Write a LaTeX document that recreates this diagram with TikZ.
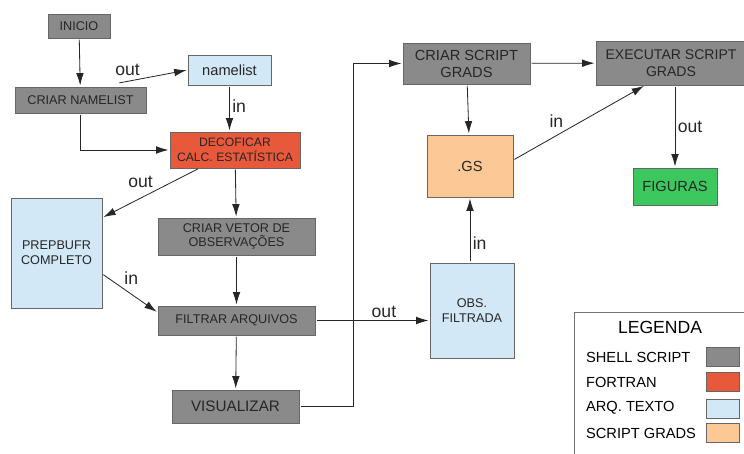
\documentclass[tikz,border=0pt]{standalone}
\usepackage{fontspec}
\setmainfont{Liberation Sans}
\usetikzlibrary{arrows.meta}
\definecolor{shellgray}{RGB}{138,138,138}
\definecolor{fortred}{RGB}{232,88,58}
\definecolor{txtblue}{RGB}{210,232,246}
\definecolor{gradsorange}{RGB}{252,200,150}
\definecolor{figgreen}{RGB}{60,200,95}

\begin{document}
\begin{tikzpicture}[x=0.03cm, y=-0.03cm, >={Latex[length=10.5pt,width=6.5pt]},
    basebox/.style={draw=black!60, line width=0.6pt, align=center, text=black!85, inner sep=1pt,
      font=\fontsize{10.8}{12.5}\selectfont},
    shell/.style={basebox, fill=shellgray},
    fort/.style={basebox, fill=fortred},
    arq/.style={basebox, fill=txtblue},
    grads/.style={basebox, fill=gradsorange},
    figbox/.style={basebox, fill=figgreen},
    bigtxt/.style={font=\fontsize{12.5}{14.5}\selectfont},
    lbl/.style={font=\fontsize{15}{17}\selectfont, inner sep=2pt},
    seta/.style={->, line width=0.7pt, black!85, shorten >=1pt, shorten <=1pt}]
    \useasboundingbox (0,0) rectangle (744,454);

    % boxes
    \node [shell, minimum width=1.86cm, minimum height=0.72cm] (ini) at (79,26) {INICIO};
    \node [shell, minimum width=3.93cm, minimum height=0.78cm] (cnl) at (80.5,100) {CRIAR NAMELIST};
    \node [arq, bigtxt, minimum width=2.49cm, minimum height=0.9cm] (nml) at (229.5,70) {namelist};
    \node [fort, font=\fontsize{10.4}{12.8}\selectfont, minimum width=3.9cm, minimum height=1.08cm] (dec) at (235,150) {DECOFICAR\\CALC. ESTATÍSTICA};
    \node [arq, minimum width=2.73cm, minimum height=3.3cm] (prep) at (56.5,253) {PREPBUFR\\COMPLETO};
    \node [shell, minimum width=4.71cm, minimum height=1.11cm] (vet) at (236.5,236.5) {CRIAR VETOR DE\\OBSERVAÇÕES};
    \node [shell, minimum width=4.71cm, minimum height=0.87cm] (fil) at (236.5,320.5) {FILTRAR ARQUIVOS};
    \node [shell, font=\fontsize{13}{15}\selectfont, minimum width=3.81cm, minimum height=0.99cm] (vis) at (235.5,406.5) {VISUALIZAR};
    \node [arq, minimum width=2.52cm, minimum height=2.85cm] (obs) at (472,310.5) {OBS.\\FILTRADA};
    \node [shell, bigtxt, minimum width=3.81cm, minimum height=1.23cm] (css) at (466.5,63.5) {CRIAR SCRIPT\\GRADS};
    \node [shell, font=\fontsize{12}{14.5}\selectfont, minimum width=4.5cm, minimum height=1.32cm] (exe) at (671,63) {EXECUTAR SCRIPT\\GRADS};
    \node [grads, bigtxt, minimum width=2.58cm, minimum height=1.86cm] (gs) at (470,166) {.GS};
    \node [figbox, bigtxt, minimum width=2.52cm, minimum height=1.11cm] (fig) at (675,186.5) {FIGURAS};

    % arrows
    \draw [seta] (ini) -- (cnl);
    \draw [seta] ([xshift=1.13cm,yshift=3pt]cnl.north) -- node [lbl, above left, pos=0.35]{out} (nml.west);
    \draw [seta] (nml) -- node [lbl, right, pos=0.45]{in} (nml |- dec.north);
    \draw [seta] (cnl.south) |- (dec.west);
    \draw [seta] ([xshift=-1.08cm]dec.south) -- node [lbl, above left, pos=0.45]{out} ([yshift=-0.6cm]prep.north east);
    \draw [seta] (dec) -- (vet);
    \draw [seta] (vet) -- (fil);
    \draw [seta] ([yshift=-0.63cm]prep.east) -- node [lbl, above right, pos=0.35]{in} ([yshift=0.24cm]fil.west);
    \draw [seta] (fil) -- (vis);
    \draw [seta] (fil.east) -- node [lbl, above, pos=0.6]{out} (fil.east -| obs.west);
    \draw [seta] (vis.east) -- ++(54,0) |- (css.west);
    \draw [seta] (css) -- (exe);
    \draw [seta] (css) -- (gs);
    \draw [seta] (obs.north -| gs) -- node [lbl, right, pos=0.3]{in} (gs.south);
    \draw [seta] ([yshift=0.18cm]gs.east) -- node [lbl, above left, pos=0.4]{in} ([xshift=-0.78cm]exe.south);
    \draw [seta] (exe.south -| fig) -- node [lbl, right, pos=0.5]{out} (fig);

    % legend
    \draw [black!55, line width=0.6pt] (574,470) -- (574,312) -- (760,312);
    \node [font=\fontsize{15}{17}\selectfont] (leg) at (660,327) {LEGENDA};
    \node [anchor=west, font=\fontsize{12.5}{14}\selectfont] (l1) at (582,357) {SHELL SCRIPT};
    \node [anchor=west, font=\fontsize{12.5}{14}\selectfont] (l2) at (582,382) {FORTRAN};
    \node [anchor=west, font=\fontsize{12.5}{14}\selectfont] (l3) at (582,408) {ARQ. TEXTO};
    \node [anchor=west, font=\fontsize{12.5}{14}\selectfont] (l4) at (582,433) {SCRIPT GRADS};
    \node [shell, minimum width=0.99cm, minimum height=0.57cm] (s1) at (722.5,356.5) {};
    \node [fort, minimum width=0.99cm, minimum height=0.57cm] (s2) at (722.5,382) {};
    \node [arq, minimum width=0.99cm, minimum height=0.57cm] (s3) at (722.5,408.5) {};
    \node [grads, minimum width=0.99cm, minimum height=0.57cm] (s4) at (722.5,433) {};
\end{tikzpicture}
\end{document}
